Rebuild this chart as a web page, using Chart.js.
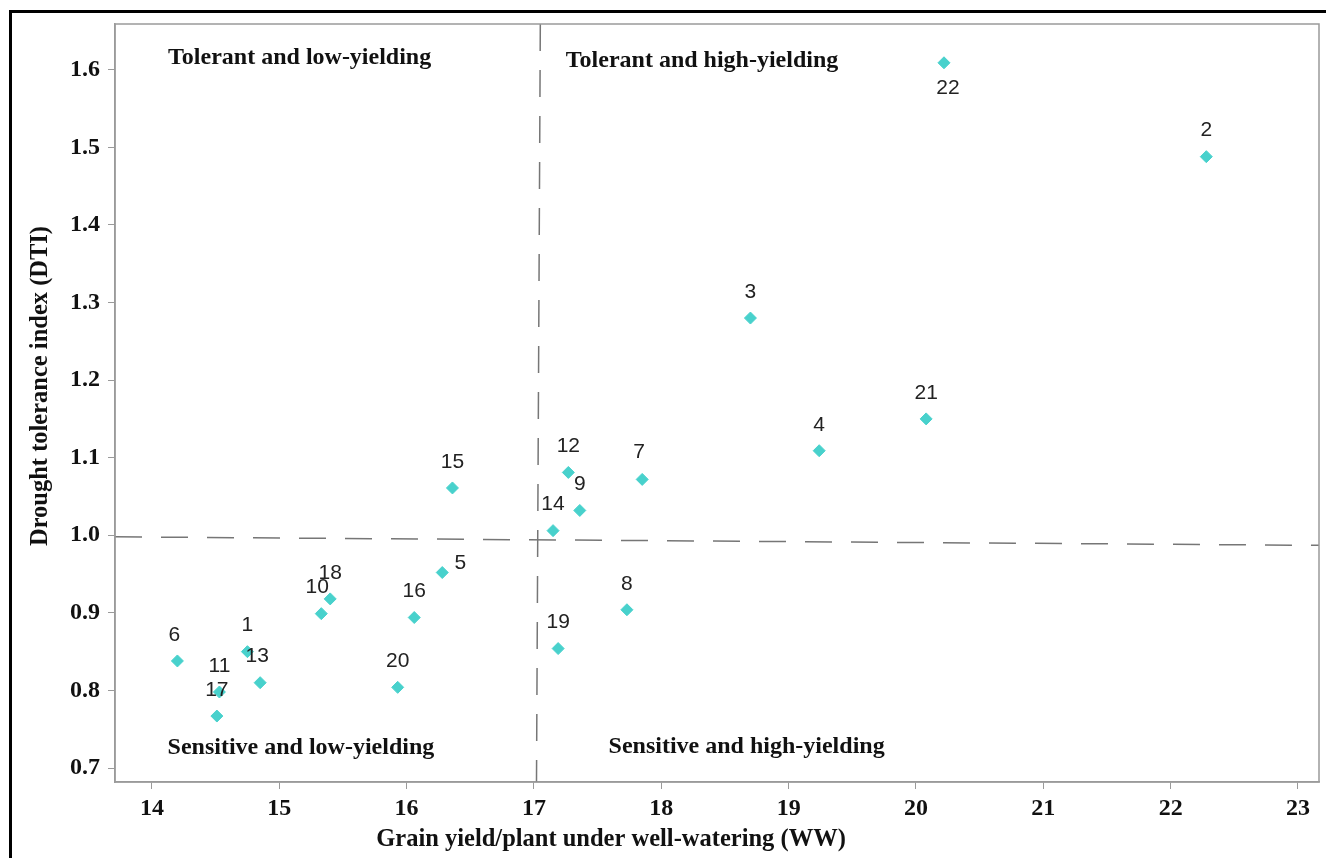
<!DOCTYPE html>
<html>
<head>
<meta charset="utf-8">
<script src="https://cdn.jsdelivr.net/npm/chart.js@4/dist/chart.umd.min.js"></script>
<style>
	html, body { margin: 0; padding: 0; background: #fff; overflow: hidden; }
	#wrap { position: relative; width: 1326px; height: 858px; }
	#frame { position: absolute; left: 9px; top: 10px; width: 1400px; height: 900px; border: 3px solid #000; pointer-events: none; }
</style>
</head>
<body>
<div id="wrap">
	<canvas id="dtiChart"></canvas>
	<div id="frame"></div>
</div>
<script>

// genotype numbers and their values
const genotypes = ['22', '2', '3', '21', '4', '7', '12', '9', '14', '15', '5', '8', '19', '16', '20', '18', '10', '6', '1', '13', '11', '17'];
const grainYieldWW = [20.22, 22.28, 18.70, 20.08, 19.24, 17.85, 17.27, 17.36, 17.15, 16.36, 16.28, 17.73, 17.19, 16.06, 15.93, 15.40, 15.33, 14.20, 14.75, 14.85, 14.53, 14.51];
const dtiValues = [1.609, 1.488, 1.280, 1.150, 1.109, 1.072, 1.081, 1.032, 1.006, 1.061, 0.952, 0.904, 0.854, 0.894, 0.804, 0.918, 0.899, 0.838, 0.850, 0.810, 0.798, 0.767];

// dashed dividing lines
const vDividerX = [17.05, 17.02];
const vDividerY = [1.659, 0.682];
const hDividerX = [13.71, 23.165];
const hDividerY = [0.998, 0.987];

// quadrant captions
const quadrantNames = ['Tolerant and low-yielding', 'Tolerant and high-yielding', 'Sensitive and low-yielding', 'Sensitive and high-yielding'];
const quadrantX = [15.16, 18.32, 15.17, 18.67];
const quadrantY = [1.615, 1.612, 0.726, 0.728];

// axis range
const xMin = 13.71, xMax = 23.165;
const yMin = 0.682, yMax = 1.659;

const xTitle = 'Grain yield/plant under well-watering (WW)';
const yTitle = 'Drought tolerance index (DTI)';

// label placement (pixels from the marker), default is above
const labelOffsets = {
	'22': [4, 25],
	'5': [18, -9],
	'6': [-3, -26],
	'13': [-3, -26],
	'10': [-4, -26],
	'7': [-3, -27]
};

const serif = '"Liberation Serif", "Times New Roman", serif';

const pointLabels = {
	id: 'pointLabels',
	afterDatasetsDraw(chart) {
		let ctx = chart.ctx;
		let meta = chart.getDatasetMeta(0);
		ctx.save();
		ctx.font = '21px "Liberation Sans", Arial, sans-serif';
		ctx.fillStyle = '#222';
		ctx.textAlign = 'center';
		ctx.textBaseline = 'middle';
		meta.data.forEach(function(pt, i) {
			let off = labelOffsets[genotypes[i]] || [0, -26];
			ctx.fillText(genotypes[i], pt.x + off[0], pt.y + off[1]);
		});
		ctx.restore();
	}
};

const quadrantText = {
	id: 'quadrantText',
	afterDraw(chart) {
		let ctx = chart.ctx;
		let xs = chart.scales.x, ys = chart.scales.y;
		let area = chart.chartArea;
		ctx.save();
		// plot frame
		ctx.strokeStyle = '#9a9a9a';
		ctx.lineWidth = 1.5;
		ctx.strokeRect(area.left, area.top, area.right - area.left, area.bottom - area.top);
		ctx.font = 'bold 24px ' + serif;
		ctx.fillStyle = '#111';
		ctx.textAlign = 'center';
		ctx.textBaseline = 'middle';
		quadrantNames.forEach(function(name, i) {
			ctx.fillText(name, xs.getPixelForValue(quadrantX[i]), ys.getPixelForValue(quadrantY[i]));
		});
		// axis titles
		ctx.font = 'bold 24.5px ' + serif;
		ctx.fillText(xTitle, 611, 840);
		ctx.translate(41, 386);
		ctx.rotate(-Math.PI / 2);
		ctx.fillText(yTitle, 0, 0);
		ctx.restore();
	}
};

function addDtiChart() {

	let ctx = document.getElementById('dtiChart').getContext('2d');
	let points = grainYieldWW.map(function(x, i) { return { x: x, y: dtiValues[i] }; });
	let vLine = vDividerX.map(function(x, i) { return { x: x, y: vDividerY[i] }; });
	let hLine = hDividerX.map(function(x, i) { return { x: x, y: hDividerY[i] }; });

	let dashed = {
		type: 'line',
		borderColor: '#767676',
		borderWidth: 1.5,
		borderDash: [27, 19],
		pointRadius: 0,
		fill: false
	};

	new Chart(ctx, {
		type: 'scatter',
		data: {
			datasets: [{
				data: points,
				pointStyle: 'rectRot',
				pointRadius: 6,
				pointBorderWidth: 1,
				backgroundColor: '#48d1cc',
				borderColor: '#48d1cc'
			},
			Object.assign({ data: vLine }, dashed),
			Object.assign({ data: hLine }, dashed)]
		},
		options: {
			responsive: true,
			maintainAspectRatio: false,
			animation: false,
			layout: {
				padding: { top: 24, right: 6, left: 0, bottom: 0 }
			},
			plugins: {
				legend: { display: false },
				tooltip: { enabled: false }
			},
			scales: {
				x: {
					type: 'linear',
					min: xMin,
					max: xMax,
					afterFit: function(scale) { scale.height = 76; },
					grid: { drawOnChartArea: false, color: '#9a9a9a', tickLength: 7 },
					border: { color: '#9a9a9a', width: 1.5 },
					ticks: {
						stepSize: 1,
						includeBounds: false,
						padding: 5,
						color: '#111',
						font: { family: serif, size: 24, weight: 'bold' },
						callback: function(v) { return v.toFixed(0); }
					}
				},
				y: {
					min: yMin,
					max: yMax,
					afterFit: function(scale) { scale.width = 115; },
					grid: { drawOnChartArea: false, color: '#9a9a9a', tickLength: 7 },
					border: { color: '#9a9a9a', width: 1.5 },
					ticks: {
						stepSize: 0.1,
						includeBounds: false,
						padding: 8,
						color: '#111',
						font: { family: serif, size: 24, weight: 'bold' },
						callback: function(v) { return v.toFixed(1); }
					}
				}
			}
		},
		plugins: [pointLabels, quadrantText]
	});

}

addDtiChart();

</script>
</body>
</html>
